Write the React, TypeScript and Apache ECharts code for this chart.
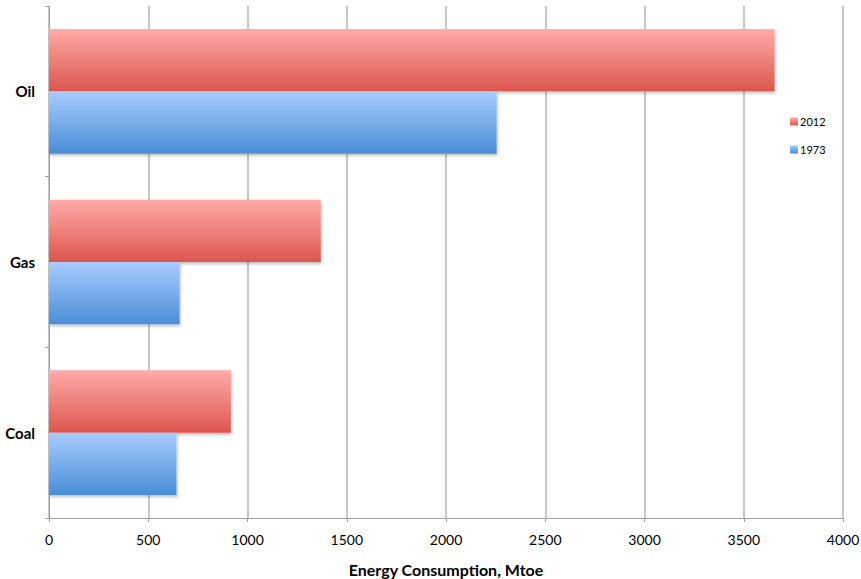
import React, { useEffect, useRef } from "react";
import * as echarts from "echarts";

const categories = ["Coal", "Gas", "Oil"];
const series2012 = [916, 1369, 3655];
const series1973 = [642, 658, 2255];
const xTicks = { min: 0, max: 4000, interval: 500 };

const FONT = "Lato, 'Open Sans', 'Liberation Sans', sans-serif";

export default function App() {
  const ref = useRef<HTMLDivElement>(null);
  useEffect(() => {
    const chart = echarts.init(ref.current!, null, { renderer: "svg" });
    const redGrad = new echarts.graphic.LinearGradient(0, 0, 0, 1, [
      { offset: 0, color: "#FFABA8" },
      { offset: 1, color: "#DC564D" },
    ]);
    const blueGrad = new echarts.graphic.LinearGradient(0, 0, 0, 1, [
      { offset: 0, color: "#A8CCFF" },
      { offset: 1, color: "#4A8ED6" },
    ]);
    const shadow = {
      shadowColor: "rgba(0,0,0,0.25)",
      shadowBlur: 3,
      shadowOffsetX: 1,
      shadowOffsetY: 2,
    };
    chart.setOption({
      animation: false,
      textStyle: { fontFamily: FONT },
      grid: {
        left: 49,
        right: 18,
        top: 6,
        bottom: 61,
        containLabel: false,
        outerBoundsMode: "none",
      },
      legend: {
        orient: "vertical",
        left: 785,
        top: 111,
        itemWidth: 8,
        itemHeight: 8,
        itemGap: 17,
        icon: "rect",
        data: ["2012", "1973"],
        textStyle: { fontSize: 11, color: "#000", fontFamily: FONT, padding: [0, 0, 0, -3] },
      },
      xAxis: {
        type: "value",
        min: xTicks.min,
        max: xTicks.max,
        interval: xTicks.interval,
        name: "Energy Consumption, Mtoe",
        nameLocation: "middle",
        nameGap: 43,
        nameTextStyle: { fontSize: 16, fontWeight: "bold", color: "#000", fontFamily: FONT },
        axisLine: { show: true, lineStyle: { color: "#A0A0A0", width: 1 } },
        axisTick: { show: true, length: 4, lineStyle: { color: "#A0A0A0" } },
        axisLabel: {
          fontSize: 14,
          color: "#000",
          margin: 14,
          fontFamily: FONT,
          formatter: (v: number) => String(v),
        },
        splitLine: { show: true, lineStyle: { color: "#B4B4B4", width: 1.5 } },
      },
      yAxis: {
        type: "category",
        data: categories,
        axisLine: { show: true, lineStyle: { color: "#A0A0A0", width: 1 } },
        axisTick: { show: true, length: 4, inside: false, lineStyle: { color: "#A0A0A0" } },
        axisLabel: {
          fontSize: 15,
          fontWeight: "bold",
          color: "#000",
          margin: 14,
          fontFamily: FONT,
          padding: [7, 0, 0, 0],
        },
      },
      series: [
        {
          name: "2012",
          type: "bar",
          data: series2012,
          barGap: "0%",
          barCategoryGap: "27%",
          itemStyle: { color: redGrad, ...shadow },
        },
        {
          name: "1973",
          type: "bar",
          data: series1973,
          barGap: "0%",
          barCategoryGap: "27%",
          itemStyle: { color: blueGrad, ...shadow },
        },
      ],
    });
    return () => chart.dispose();
  }, []);
  return <div ref={ref} style={{ width: 861, height: 579, position: "absolute", left: 0, top: 0 }} />;
}
